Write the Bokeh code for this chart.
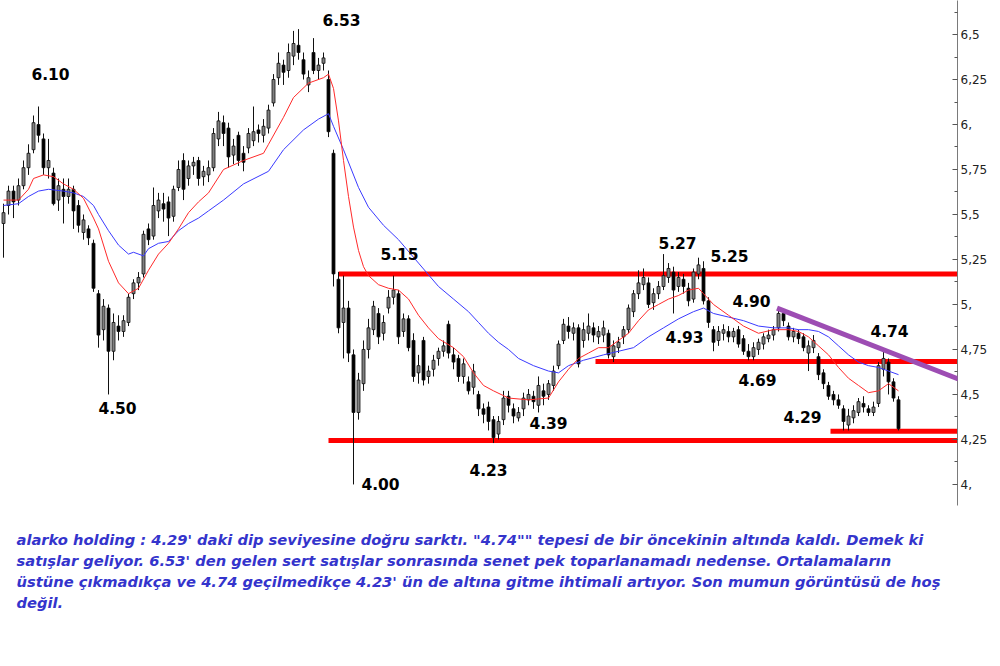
import numpy as np
from bokeh.plotting import figure
from bokeh.models import Range1d, FixedTicker, Title, Arrow, ColumnDataSource, LabelSet
from bokeh.core.properties import value
from bokeh.embed import file_html
from bokeh.resources import INLINE

# ---------------- data ----------------
opens = [
    5.45, 5.55, 5.63, 5.58, 5.66, 5.76, 5.86, 6.00, 5.92, 5.76,
    5.73, 5.58, 5.64, 5.60, 5.64, 5.55, 5.40, 5.42, 5.34, 5.06,
    4.86, 4.98, 4.74, 4.88, 4.85, 4.90, 5.06, 5.12, 5.17, 5.42,
    5.38, 5.52, 5.56, 5.57, 5.49, 5.65, 5.80, 5.70, 5.77, 5.80,
    5.71, 5.72, 5.76, 5.92, 6.01, 5.98, 5.83, 5.94, 5.84, 5.87,
    5.91, 5.97, 5.94, 5.98, 6.12, 6.26, 6.33, 6.30, 6.38, 6.44,
    6.36, 6.22, 6.40, 6.30, 6.34, 6.25, 5.84, 5.14, 4.90, 4.98,
    4.72, 4.40, 4.56, 4.75, 4.86, 4.95, 4.84, 4.98, 5.04, 5.06,
    4.85, 4.92, 4.80, 4.62, 4.80, 4.60, 4.64, 4.70, 4.74, 4.89,
    4.72, 4.70, 4.60, 4.57, 4.54, 4.50, 4.42, 4.43, 4.36, 4.28,
    4.36, 4.49, 4.42, 4.37, 4.42, 4.47, 4.49, 4.44, 4.52, 4.50,
    4.55, 4.66, 4.80, 4.88, 4.84, 4.87, 4.80, 4.84, 4.87, 4.82,
    4.83, 4.84, 4.71, 4.76, 4.82, 4.86, 4.96, 5.06, 5.11, 5.12,
    5.01, 5.06, 5.10, 5.15, 5.18, 5.10, 5.14, 5.09, 5.03, 5.17,
    5.20, 5.02, 4.86, 4.80, 4.84, 4.85, 4.82, 4.86, 4.81, 4.74,
    4.71, 4.75, 4.78, 4.81, 4.83, 4.87, 4.95, 4.88, 4.82, 4.84,
    4.82, 4.73, 4.76, 4.71, 4.62, 4.55, 4.50, 4.47, 4.42, 4.33,
    4.37, 4.40, 4.45, 4.42, 4.40, 4.45, 4.64, 4.68, 4.57, 4.47,
]
highs = [
    5.56, 5.66, 5.66, 5.70, 5.80, 5.89, 6.05, 6.10, 5.95, 5.92,
    5.76, 5.70, 5.70, 5.70, 5.66, 5.58, 5.50, 5.44, 5.36, 5.08,
    5.03, 5.00, 4.95, 4.94, 4.94, 5.06, 5.14, 5.18, 5.41, 5.45,
    5.65, 5.62, 5.62, 5.60, 5.66, 5.80, 5.84, 5.80, 5.82, 5.82,
    5.77, 5.80, 5.98, 6.07, 6.05, 6.01, 5.92, 5.96, 5.88, 5.98,
    6.10, 6.00, 6.03, 6.11, 6.28, 6.40, 6.36, 6.45, 6.52, 6.53,
    6.40, 6.30, 6.48, 6.37, 6.40, 6.30, 5.86, 5.18, 5.16, 5.02,
    4.75, 4.62, 4.80, 4.92, 5.02, 4.98, 4.94, 5.08, 5.16, 5.08,
    4.95, 4.94, 4.84, 4.72, 4.82, 4.66, 4.72, 4.76, 4.80, 4.91,
    4.76, 4.72, 4.70, 4.60, 4.67, 4.52, 4.45, 4.46, 4.38, 4.38,
    4.52, 4.52, 4.45, 4.43, 4.51, 4.53, 4.52, 4.60, 4.56, 4.58,
    4.66, 4.80, 4.92, 4.93, 4.90, 4.89, 4.90, 4.95, 4.90, 4.88,
    4.91, 4.86, 4.80, 4.82, 4.88, 5.00, 5.08, 5.19, 5.20, 5.15,
    5.09, 5.13, 5.28, 5.23, 5.21, 5.18, 5.17, 5.12, 5.20, 5.26,
    5.24, 5.04, 4.88, 4.88, 4.89, 4.88, 4.87, 4.88, 4.83, 4.78,
    4.79, 4.81, 4.84, 4.86, 4.88, 4.98, 4.97, 4.90, 4.87, 4.86,
    4.84, 4.80, 4.83, 4.73, 4.64, 4.57, 4.52, 4.50, 4.44, 4.42,
    4.44, 4.48, 4.49, 4.44, 4.46, 4.68, 4.74, 4.70, 4.59, 4.49,
]
lows = [
    5.26, 5.50, 5.48, 5.55, 5.64, 5.72, 5.84, 5.90, 5.72, 5.70,
    5.55, 5.52, 5.45, 5.56, 5.42, 5.40, 5.36, 5.33, 5.07, 4.76,
    4.80, 4.50, 4.69, 4.80, 4.82, 4.88, 5.03, 5.08, 5.15, 5.33,
    5.36, 5.48, 5.46, 5.38, 5.46, 5.63, 5.58, 5.66, 5.72, 5.66,
    5.66, 5.68, 5.74, 5.88, 5.88, 5.76, 5.78, 5.77, 5.74, 5.84,
    5.88, 5.90, 5.90, 5.95, 6.10, 6.22, 6.22, 6.26, 6.33, 6.36,
    6.25, 6.18, 6.28, 6.25, 6.30, 5.93, 5.10, 4.84, 4.70, 4.68,
    4.00, 4.36, 4.52, 4.70, 4.83, 4.78, 4.80, 4.95, 5.00, 4.78,
    4.82, 4.74, 4.57, 4.56, 4.55, 4.56, 4.60, 4.66, 4.71, 4.70,
    4.64, 4.57, 4.56, 4.50, 4.50, 4.38, 4.34, 4.30, 4.23, 4.25,
    4.33, 4.40, 4.34, 4.35, 4.38, 4.44, 4.42, 4.40, 4.44, 4.47,
    4.52, 4.64, 4.78, 4.81, 4.80, 4.65, 4.76, 4.80, 4.79, 4.78,
    4.79, 4.70, 4.68, 4.73, 4.78, 4.84, 4.93, 5.03, 5.08, 4.98,
    4.97, 5.03, 5.08, 5.12, 4.95, 5.07, 5.06, 4.99, 5.01, 5.14,
    5.00, 4.87, 4.74, 4.77, 4.80, 4.79, 4.79, 4.76, 4.72, 4.69,
    4.69, 4.72, 4.75, 4.79, 4.80, 4.85, 4.88, 4.80, 4.79, 4.78,
    4.74, 4.63, 4.73, 4.58, 4.53, 4.47, 4.44, 4.42, 4.30, 4.30,
    4.34, 4.38, 4.40, 4.38, 4.38, 4.43, 4.60, 4.50, 4.46, 4.30,
]
closes = [
    5.51, 5.63, 5.57, 5.66, 5.76, 5.84, 6.01, 5.94, 5.76, 5.80,
    5.56, 5.66, 5.60, 5.64, 5.52, 5.44, 5.47, 5.37, 5.09, 4.83,
    4.99, 4.74, 4.90, 4.85, 4.91, 5.04, 5.12, 5.15, 5.39, 5.36,
    5.55, 5.58, 5.53, 5.48, 5.64, 5.75, 5.64, 5.77, 5.79, 5.70,
    5.74, 5.76, 5.95, 6.02, 5.95, 5.82, 5.88, 5.80, 5.79, 5.95,
    5.96, 5.95, 5.99, 6.08, 6.25, 6.34, 6.29, 6.40, 6.45, 6.40,
    6.28, 6.26, 6.30, 6.33, 6.37, 5.96, 5.17, 4.87, 4.98, 4.73,
    4.40, 4.58, 4.75, 4.87, 4.99, 4.82, 4.90, 5.04, 5.08, 4.82,
    4.92, 4.76, 4.60, 4.66, 4.58, 4.63, 4.69, 4.74, 4.77, 4.73,
    4.68, 4.60, 4.67, 4.52, 4.63, 4.42, 4.39, 4.35, 4.26, 4.35,
    4.48, 4.44, 4.38, 4.40, 4.48, 4.50, 4.46, 4.55, 4.49, 4.56,
    4.63, 4.78, 4.89, 4.85, 4.87, 4.67, 4.86, 4.88, 4.83, 4.85,
    4.87, 4.72, 4.77, 4.79, 4.86, 4.98, 5.06, 5.12, 5.15, 5.00,
    5.06, 5.10, 5.16, 5.20, 5.08, 5.15, 5.10, 5.02, 5.18, 5.22,
    5.02, 4.90, 4.79, 4.85, 4.86, 4.82, 4.85, 4.78, 4.74, 4.71,
    4.76, 4.79, 4.82, 4.83, 4.86, 4.95, 4.91, 4.82, 4.85, 4.81,
    4.76, 4.77, 4.80, 4.61, 4.56, 4.49, 4.47, 4.44, 4.35, 4.38,
    4.41, 4.46, 4.43, 4.40, 4.43, 4.66, 4.70, 4.57, 4.48, 4.31,
]

# short moving average (red), read at candle positions
red_i = [0, 3, 5, 6, 8, 10, 12, 14, 16, 18, 19, 21, 23, 25, 27, 29, 31, 33, 35, 37,
         39, 41, 44, 48, 52, 53, 56, 58, 61, 64, 65, 66, 67, 68, 69, 70, 71, 72, 73, 75,
         77, 79, 81, 83, 85, 87, 90, 92, 94, 96, 98, 101, 105, 109, 111, 113, 115, 117, 119, 121,
         123, 125, 127, 129, 131, 133, 135, 137, 139, 140, 142, 145, 148, 151, 154, 157, 159, 161, 163, 165,
         167, 169, 171, 173, 175, 177, 179]
red_v = [5.58, 5.58, 5.64, 5.70, 5.72, 5.71, 5.67, 5.64, 5.59, 5.48, 5.42, 5.24, 5.12, 5.06, 5.09, 5.19, 5.28, 5.34, 5.42, 5.51,
         5.57, 5.62, 5.75, 5.80, 5.84, 5.89, 6.04, 6.15, 6.23, 6.26, 6.28, 6.20, 6.02, 5.80, 5.60, 5.43, 5.30, 5.21, 5.16, 5.11,
         5.09, 5.08, 5.03, 4.94, 4.87, 4.81, 4.76, 4.71, 4.62, 4.55, 4.52, 4.48, 4.47, 4.48, 4.57, 4.64, 4.70, 4.73, 4.76, 4.76,
         4.80, 4.84, 4.91, 4.97, 5.00, 5.03, 5.05, 5.08, 5.09, 5.06, 5.00, 4.94, 4.88, 4.84, 4.86, 4.86, 4.85, 4.82, 4.77, 4.72,
         4.65, 4.59, 4.55, 4.51, 4.52, 4.56, 4.52]

# long moving average (blue)
blue_i = [0, 3, 5, 7, 9, 12, 14, 16, 18, 19, 21, 23, 25, 26, 28, 29, 31, 33, 35, 37,
          39, 41, 44, 48, 53, 56, 60, 63, 65, 66, 68, 71, 73, 76, 79, 83, 87, 90, 93, 95,
          97, 99, 101, 103, 106, 109, 111, 113, 116, 120, 126, 129, 132, 135, 138, 140, 142, 145, 148, 151,
          154, 157, 159, 161, 163, 165, 167, 169, 171, 173, 175, 177, 179]
blue_v = [5.55, 5.56, 5.60, 5.63, 5.64, 5.63, 5.62, 5.60, 5.55, 5.50, 5.41, 5.33, 5.28, 5.29, 5.27, 5.31, 5.34, 5.35, 5.41, 5.45,
          5.48, 5.52, 5.58, 5.67, 5.74, 5.86, 5.97, 6.03, 6.06, 5.99, 5.86, 5.65, 5.54, 5.44, 5.36, 5.23, 5.10, 5.03, 4.96, 4.90,
          4.84, 4.79, 4.75, 4.70, 4.66, 4.63, 4.62, 4.66, 4.69, 4.72, 4.76, 4.82, 4.87, 4.92, 4.96, 4.98, 4.95, 4.93, 4.91, 4.88,
          4.87, 4.87, 4.86, 4.86, 4.85, 4.82, 4.77, 4.72, 4.68, 4.66, 4.65, 4.63, 4.61]

# horizontal support / resistance levels (price, first candle index)
level_price = [5.17, 4.683, 4.296, 4.244]
level_start = [67.0, 118.4, 165.4, 65.0]

# descending trend line (candle index, price)
trend_x = [154.7, 197.7]
trend_y = [4.98, 4.513]

# price annotations (text, candle index, price)
ann_text = ["6.10", "6.53", "4.50", "5.15", "4.00", "4.23", "4.39",
            "5.27", "5.25", "4.90", "4.93", "4.69", "4.74", "4.29"]
ann_x = [9.4, 67.6, 22.8, 79.2, 75.4, 97.0, 109.0,
         134.8, 145.2, 149.6, 136.2, 150.8, 177.2, 159.8]
ann_y = [6.278, 6.583, 4.422, 5.278, 4.0, 4.083, 4.339,
         5.344, 5.272, 5.017, 4.817, 4.578, 4.85, 4.372]

tick_values = [4, 4.25, 4.5, 4.75, 5, 5.25, 5.5, 5.75, 6, 6.25, 6.5]
tick_labels = ["4,", "4,25", "4,5", "4,75", "5,", "5,25", "5,5", "5,75", "6,", "6,25", "6,5"]
minor_values = [3.875, 4.125, 4.375, 4.625, 4.875, 5.125, 5.375, 5.625, 5.875, 6.125, 6.375, 6.625]

comment_lines = [
    "alarko holding : 4.29' daki dip seviyesine doğru sarktı. \"4.74\"\" tepesi de bir öncekinin altında kaldı. Demek ki",
    "satışlar geliyor. 6.53' den gelen sert satışlar sonrasında senet pek toparlanamadı nedense. Ortalamaların",
    "üstüne çıkmadıkça ve 4.74 geçilmedikçe 4.23' ün de altına gitme ihtimali artıyor. Son mumun görüntüsü de hoş",
    "değil.",
]

# ---------------- figure ----------------
x_lo, x_hi = -0.6, 190.8
p = figure(frame_width=957, frame_height=505, output_backend="svg", toolbar_location=None,
           x_range=Range1d(x_lo, x_hi), y_range=Range1d(3.883, 6.689),
           x_axis_location=None, y_axis_location="right",
           min_border_left=0, min_border_top=0, min_border_right=40, min_border_bottom=0)
p.outline_line_color = None
p.xgrid.visible = False
p.ygrid.visible = False
p.background_fill_color = "white"
p.border_fill_color = "white"

ax = p.yaxis[0]
ax.ticker = FixedTicker(ticks=tick_values, minor_ticks=minor_values)
ax.major_label_overrides = dict(zip(tick_values, tick_labels))
ax.axis_line_color = "#7a7a7a"
ax.major_tick_line_color = "#555555"
ax.minor_tick_line_color = "#555555"
ax.major_tick_in = 5
ax.major_tick_out = 0
ax.minor_tick_in = 3
ax.minor_tick_out = 0
ax.major_label_standoff = 3
ax.major_label_text_font = "DejaVu Sans"
ax.major_label_text_font_size = "12px"
ax.major_label_text_color = "#222222"

idx = np.arange(len(closes))
o = np.array(opens); c = np.array(closes)
src = ColumnDataSource(dict(
    x=idx, h=highs, l=lows,
    top=np.maximum(o, c), bot=np.minimum(o, c),
    fill=["#808080" if cc >= oo else "#000000" for oo, cc in zip(opens, closes)],
))

# levels first (under candles)
p.segment(x0=level_start, y0=level_price, x1=[x_hi + 2] * len(level_price), y1=level_price,
          line_color="#ff0000", line_width=5)

p.segment("x", "h", "x", "l", source=src, line_color="#111111", line_width=1)
p.vbar(x="x", width=0.6, top="top", bottom="bot", source=src,
       fill_color="fill", line_color="#111111", line_width=0.8)

p.line(blue_i, blue_v, line_color="#3a3aff", line_width=1)
p.line(red_i, red_v, line_color="#ff2a2a", line_width=1)

p.add_layout(Arrow(end=None, x_start=trend_x[0], y_start=trend_y[0],
                   x_end=trend_x[1], y_end=trend_y[1],
                   line_color="#9d4db3", line_width=5))

ann_src = ColumnDataSource(dict(x=ann_x, y=ann_y, t=ann_text))
p.add_layout(LabelSet(x="x", y="y", text="t", source=ann_src,
                      text_font=value("DejaVu Sans"), text_font_style="bold",
                      text_font_size="15.5px", text_color="#000000",
                      text_align="center", text_baseline="middle"))

# spacer between chart and comment
p.add_layout(Title(text=" ", text_font_size="2px", standoff=18), "below")
for k, line in enumerate(comment_lines):
    t = Title(text=line, align="left", offset=16,
              text_font="DejaVu Sans", text_font_style="bold italic",
              text_font_size="14.7px", text_color="#3434cc", standoff=2)
    p.add_layout(t, "below")

open("out.html", "w").write(file_html(p, INLINE))
